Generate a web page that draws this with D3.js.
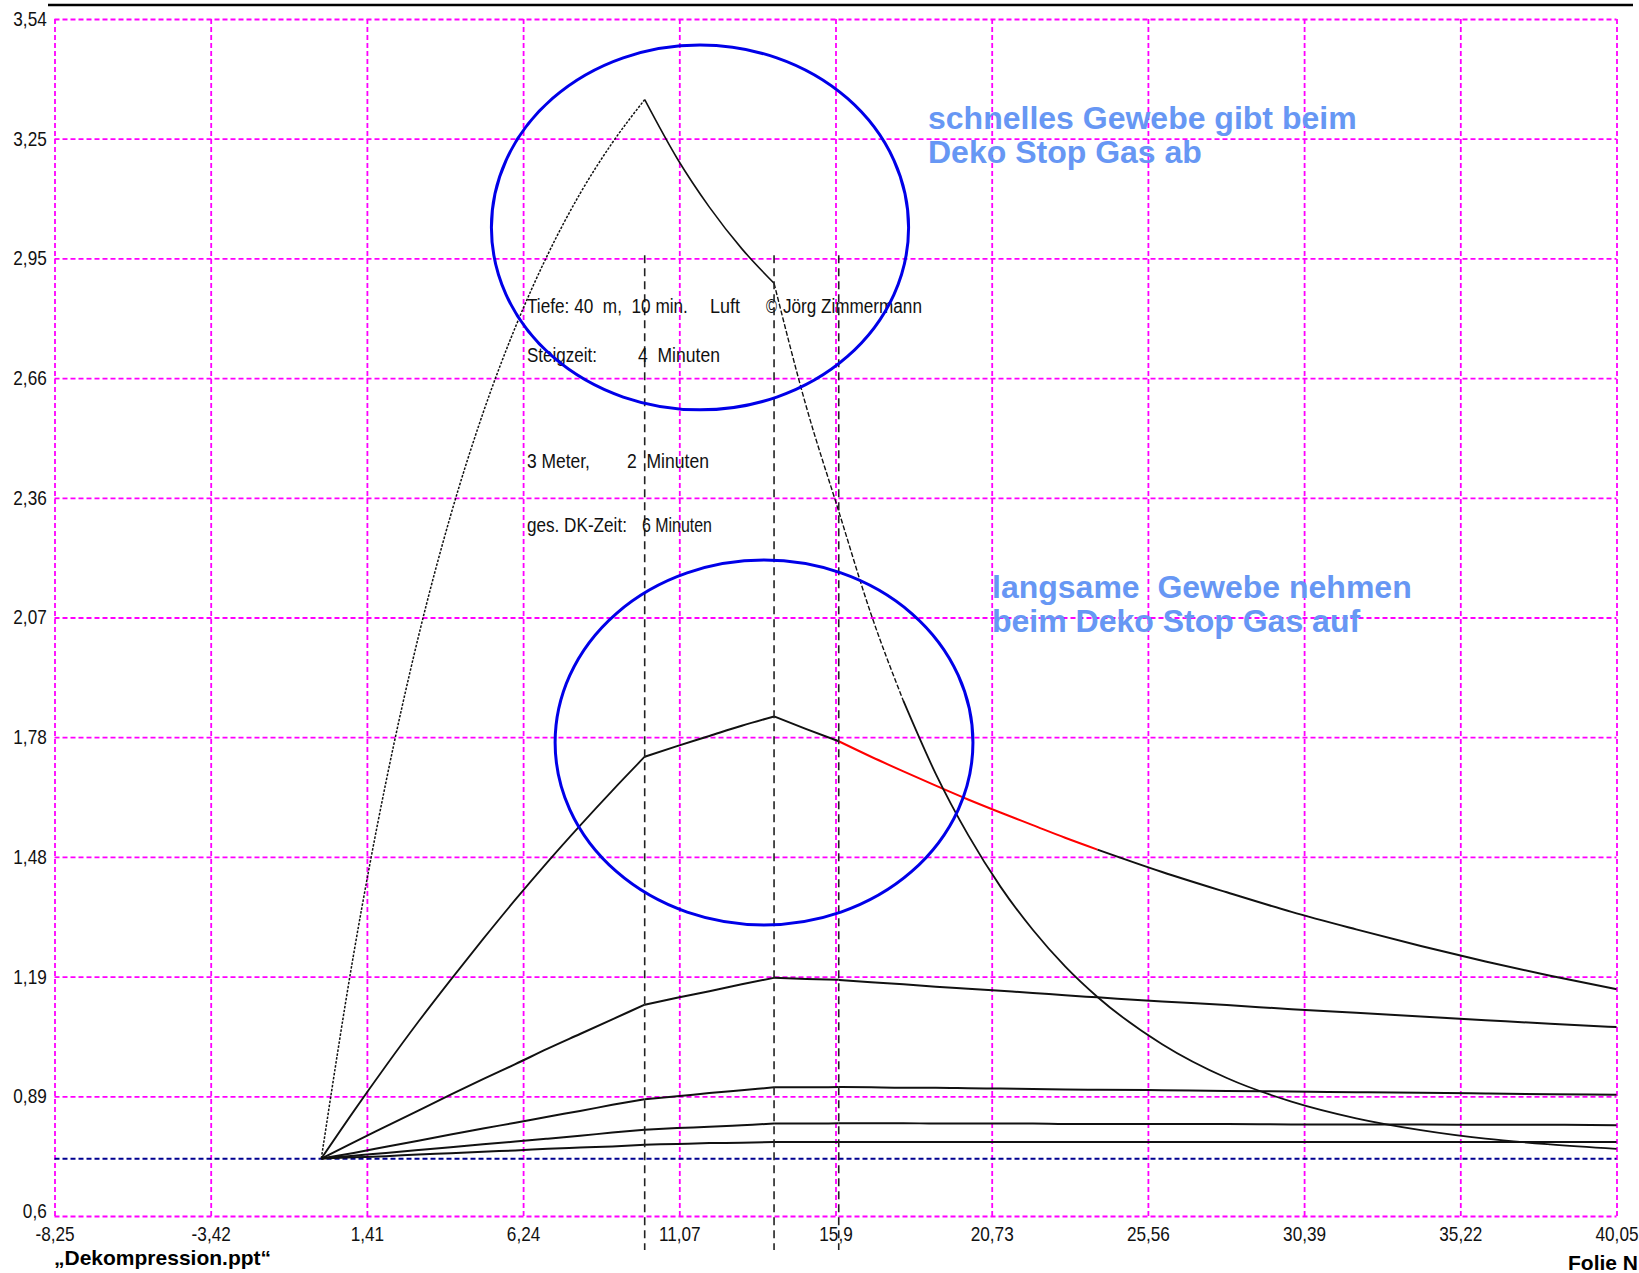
<!DOCTYPE html>
<html>
<head>
<meta charset="utf-8">
<script src="https://cdn.jsdelivr.net/npm/d3@7"></script>
<style>
  html, body { margin: 0; padding: 0; background: #ffffff; }
  svg { display: block; }
</style>
</head>
<body>
<svg id="chart" width="1639" height="1273"></svg>
<script>
// Dive time in minutes (0-10 at 40 m, 10-14 ascent, 14-16 stop at 3 m, then surface)
const minutes = [0,1,2,3,4,5,6,7,8,9,10,11,12,13,14,15,16,17,18,19,20,21,22,23,24,26,28,30,32,34,36,38,40.05];

// Nitrogen pressure (bar) in six tissue compartments
const tissueFast = [0.741,1.243,1.666,2.022,2.321,2.572,2.783,2.961,3.111,3.236,3.342,
                    3.198,3.078,2.976,2.891, 2.587,2.331,
                    2.078,1.865,1.686,1.536,1.409,1.303,1.213,1.138,
                    1.022,0.939,0.881,0.840,0.811,0.790,0.776,0.765];
const tissue2 = [0.741,0.857,0.969,1.077,1.180,1.280,1.377,1.470,1.559,1.645,1.728,
                 1.754,1.779,1.804,1.827, 1.796,1.766,
                 1.728,1.692,1.657,1.623,1.591,1.560,1.529,1.500,
                 1.445,1.395,1.347,1.304,1.263,1.225,1.190,1.157];
const tissue3 = [0.741,0.781,0.820,0.859,0.898,0.936,0.973,1.011,1.047,1.083,1.119,
                 1.136,1.152,1.169,1.185, 1.182,1.180,
                 1.174,1.169,1.163,1.158,1.153,1.148,1.142,1.137,
                 1.127,1.118,1.108,1.099,1.090,1.081,1.072,1.064];
const tissue4 = [0.741,0.755,0.770,0.785,0.800,0.815,0.829,0.844,0.858,0.873,0.887,
                 0.894,0.902,0.909,0.916, 0.916,0.917,
                 0.916,0.915,0.915,0.914,0.913,0.912,0.911,0.910,
                 0.909,0.907,0.906,0.904,0.903,0.901,0.899,0.898];
const tissue5 = [0.741,0.748,0.755,0.762,0.769,0.776,0.783,0.790,0.797,0.805,0.812,
                 0.816,0.819,0.823,0.827, 0.827,0.828,
                 0.828,0.828,0.827,0.827,0.827,0.827,0.826,0.826,
                 0.826,0.826,0.825,0.825,0.825,0.824,0.824,0.823];
const tissueSlow = [0.741,0.744,0.747,0.751,0.754,0.758,0.761,0.765,0.768,0.771,0.775,
                    0.777,0.779,0.780,0.782, 0.782,0.782,
                    0.782,0.782,0.782,0.782,0.782,0.782,0.782,0.782,
                    0.782,0.782,0.782,0.782,0.782,0.782,0.782,0.782];

// Surface nitrogen pressure and profile phase changes
const surfaceN2 = 0.7405;
const phaseMarks = [10, 14, 16];
const phaseMarkTop = 2.96;

// Axis ticks
const xTicks = [-8.25,-3.42,1.41,6.24,11.07,15.9,20.73,25.56,30.39,35.22,40.05];
const yTicks = [0.6,0.894,1.188,1.482,1.776,2.07,2.364,2.658,2.952,3.246,3.54];

// Highlight ellipses: centre (min, bar) and radii (min, bar)
const highlightCenters = [[11.71, 3.028], [13.69, 1.763]];
const highlightRadii = [[6.45, 0.448], [6.46, 0.448]];

// Texts: content, x, baseline, width
const infoTexts = [
  ["Tiefe: 40  m,  10 min.", 527, 313, 161],
  ["Luft", 710, 313, 30],
  ["\u00A9", 766, 313, 11],
  ["J\u00F6rg Zimmermann", 783, 313, 139],
  ["Steigzeit:", 527, 362, 70],
  ["4  Minuten", 638, 362, 82],
  ["3 Meter,", 527, 468, 63],
  ["2  Minuten", 627, 468, 82],
  ["ges. DK-Zeit:", 527, 532, 100],
  ["6 Minuten", 642, 532, 70]
];
const noteFast = ["schnelles Gewebe gibt beim", "Deko Stop Gas ab"];
const noteSlow = ["langsame  Gewebe nehmen", "beim Deko Stop Gas auf"];

const svg = d3.select("#chart");
const plotL = 54.5, plotR = 1616.5, plotT = 19, plotB = 1216;

const x = d3.scaleLinear().domain([-8.25, 40.05]).range([plotL, plotR]);
const y = d3.scaleLinear().domain([0.6, 3.54]).range([plotB, plotT]);
const locale = d3.formatLocale({decimal: ",", thousands: ".", grouping: [3], currency: ["", " \u20AC"], minus: "-"});
const fmt = locale.format(".2~f");

// top rule
svg.append("line")
  .attr("x1", 48).attr("x2", 1633).attr("y1", 5).attr("y2", 5)
  .attr("stroke", "#000").attr("stroke-width", 2.5);

// magenta grid
const gridX = svg.append("g")
  .attr("transform", `translate(0,${plotB})`)
  .call(d3.axisBottom(x).tickValues(xTicks).tickSize(-(plotB - plotT)).tickFormat(""));
const gridY = svg.append("g")
  .attr("transform", `translate(${plotL},0)`)
  .call(d3.axisLeft(y).tickValues(yTicks).tickSize(-(plotR - plotL)).tickFormat(""));
[gridX, gridY].forEach(g => {
  g.select(".domain").remove();
  g.selectAll(".tick line")
    .attr("stroke", "#ff00ff").attr("stroke-width", 1.8)
    .attr("stroke-dasharray", "5,3");
});

// tick labels
const fontSmall = "'Liberation Sans', Arial, sans-serif";
const labX = svg.append("g")
  .attr("transform", `translate(0,${plotB})`)
  .call(d3.axisBottom(x).tickValues(xTicks).tickSize(0).tickPadding(11).tickFormat(fmt));
const labY = svg.append("g")
  .attr("transform", `translate(${plotL},0)`)
  .call(d3.axisLeft(y).tickValues(yTicks).tickSize(0).tickPadding(9).tickFormat(fmt));
[labX, labY].forEach(g => {
  g.select(".domain").remove();
  g.selectAll(".tick text")
    .attr("font-family", fontSmall).attr("font-size", 20)
    .attr("fill", "#111").attr("transform", "scale(0.86,1)");
});
// lowest value label sits a little higher, clear of the first time label
labY.selectAll(".tick text").filter(d => d === 0.6).attr("dy", "0.05em");

// surface baseline
svg.append("line")
  .attr("x1", plotL).attr("x2", plotR)
  .attr("y1", y(surfaceN2)).attr("y2", y(surfaceN2))
  .attr("stroke", "#000090").attr("stroke-width", 2)
  .attr("stroke-dasharray", "5,3");

// tissue curves, drawn phase by phase so the kinks stay sharp
const line = d3.line().x(d => x(d[0])).y(d => y(d[1])).curve(d3.curveMonotoneX);
const curves = svg.append("g").attr("fill", "none");
function segment(values, t0, t1, color, width, dash) {
  const pts = minutes.map((t, i) => [t, values[i]]).filter(d => d[0] >= t0 && d[0] <= t1);
  curves.append("path").datum(pts).attr("d", line)
    .attr("stroke", color).attr("stroke-width", width)
    .attr("stroke-dasharray", dash || null)
    .attr("stroke-linejoin", "round");
}
[tissueSlow, tissue5, tissue4, tissue3].forEach(vals => {
  segment(vals, 0, 10, "#111", 2);
  segment(vals, 10, 14, "#111", 2);
  segment(vals, 14, 16, "#111", 2);
  segment(vals, 16, 40.05, "#111", 2);
});
segment(tissue2, 0, 10, "#111", 1.8);
segment(tissue2, 10, 14, "#111", 2);
segment(tissue2, 14, 16, "#111", 2);
segment(tissue2, 16, 24, "#ff0000", 2);
segment(tissue2, 24, 40.05, "#111", 2);
segment(tissueFast, 0, 10, "#111", 1.5, "2.5,1.5");
segment(tissueFast, 10, 14, "#111", 1.6);
segment(tissueFast, 14, 18, "#111", 1.4, "5,2");
segment(tissueFast, 18, 40.05, "#111", 1.8);

// phase markers
svg.append("g").selectAll("line").data(phaseMarks).join("line")
  .attr("x1", d => x(d)).attr("x2", d => x(d))
  .attr("y1", y(phaseMarkTop)).attr("y2", plotB + 34)
  .attr("stroke", "#222").attr("stroke-width", 1.6)
  .attr("stroke-dasharray", "8,5");

// dive description, narrowed horizontally to the given widths
svg.append("g").selectAll("text").data(infoTexts).join("text")
  .style("white-space", "pre")
  .attr("font-family", fontSmall).attr("font-size", 20).attr("fill", "#111")
  .text(d => d[0])
  .each(function(d) {
    const natural = this.getComputedTextLength();
    const sx = d[3] / natural;
    d3.select(this).attr("transform", `translate(${d[1]},${d[2]}) scale(${sx},1)`);
  });

// highlight ellipses
svg.append("g").selectAll("ellipse").data(highlightCenters).join("ellipse")
  .attr("cx", d => x(d[0])).attr("cy", d => y(d[1]))
  .attr("rx", (d, i) => x(highlightRadii[i][0]) - x(0))
  .attr("ry", (d, i) => y(0.6) - y(0.6 + highlightRadii[i][1]))
  .attr("fill", "none").attr("stroke", "#0000e8").attr("stroke-width", 3);

// notes
function note(lines, x0, y0) {
  svg.append("g").selectAll("text").data(lines).join("text")
    .attr("x", x0).attr("y", (d, i) => y0 + i * 33.5)
    .style("white-space", "pre")
    .attr("font-family", "'Liberation Sans', Arial, sans-serif")
    .attr("font-weight", "bold").attr("font-size", 32).attr("fill", "#6797f4")
    .text(d => d);
}
note(noteFast, 928, 129);
note(noteSlow, 992, 598);

// footer
svg.append("text").attr("x", 54).attr("y", 1265)
  .attr("font-family", "'Liberation Sans', Arial, sans-serif")
  .attr("font-weight", "bold").attr("font-size", 21).attr("fill", "#000")
  .text("\u201EDekompression.ppt\u201C");
svg.append("text").attr("x", 1638).attr("y", 1270).attr("text-anchor", "end")
  .attr("font-family", "'Liberation Sans', Arial, sans-serif")
  .attr("font-weight", "bold").attr("font-size", 21).attr("fill", "#000")
  .text("Folie N");
</script>
</body>
</html>
